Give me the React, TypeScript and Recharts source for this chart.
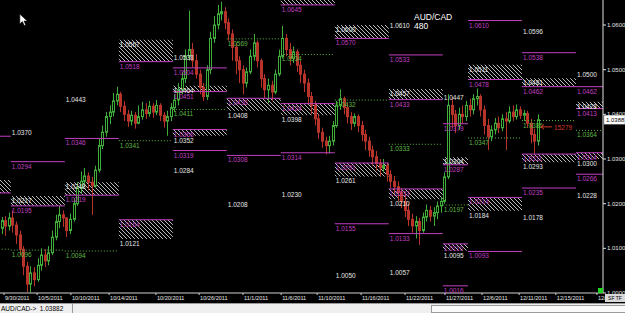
import React from "react";
import { ComposedChart, Bar, XAxis, YAxis, ReferenceArea, ReferenceLine, ReferenceDot } from "recharts";

const GREEN = "#3fae3a";
const RED = "#b8342a";
const MAGENTA = "#c23fc2";
const LEVEL_GREEN = "#5fb844";
const LABEL_WHITE = "#e6e6e6";
const FONT = "'Liberation Sans', Arial, sans-serif";

// AUD/CAD H8 candles (open = previous close)
const firstOpen = 1.0145;
const closes = [
  1.0162, 1.0150, 1.0168, 1.0152, 1.0130, 1.0098, 1.0060, 1.0020, 1.0045, 1.0030,
  1.0062, 1.0085, 1.0072, 1.0090, 1.0125, 1.0160, 1.0175, 1.0168, 1.0140, 1.0165,
  1.0200, 1.0235, 1.0250, 1.0262, 1.0248, 1.0240, 1.0275, 1.0330, 1.0360, 1.0395,
  1.0405, 1.0430, 1.0445, 1.0418, 1.0400, 1.0385, 1.0398, 1.0380, 1.0395, 1.0410,
  1.0402, 1.0418, 1.0405, 1.0420, 1.0398, 1.0385, 1.0395, 1.0415, 1.0432, 1.0455,
  1.0480, 1.0530, 1.0545, 1.0520, 1.0490, 1.0460, 1.0440, 1.0500, 1.0570, 1.0600,
  1.0625, 1.0630, 1.0605, 1.0580, 1.0550, 1.0520, 1.0500, 1.0470, 1.0495, 1.0530,
  1.0560, 1.0520, 1.0480, 1.0455, 1.0465, 1.0450, 1.0490, 1.0530, 1.0570, 1.0545,
  1.0525, 1.0540, 1.0510, 1.0490, 1.0470, 1.0440, 1.0420, 1.0390, 1.0360, 1.0340,
  1.0330, 1.0340, 1.0375, 1.0420, 1.0435, 1.0415, 1.0395, 1.0380, 1.0395, 1.0375,
  1.0355, 1.0340, 1.0320, 1.0305, 1.0290, 1.0280, 1.0285, 1.0265, 1.0250, 1.0238,
  1.0225, 1.0205, 1.0185, 1.0165, 1.0150, 1.0160, 1.0140, 1.0170, 1.0185, 1.0172,
  1.0180, 1.0195, 1.0205, 1.0260, 1.0420, 1.0400, 1.0375, 1.0400, 1.0395, 1.0420,
  1.0410, 1.0435, 1.0440, 1.0410, 1.0375, 1.0350, 1.0365, 1.0380, 1.0370, 1.0390,
  1.0385, 1.0405, 1.0395, 1.0410, 1.0398, 1.0402, 1.0380, 1.0355, 1.0340, 1.0388,
];
const highs = [
  1.0170, 1.0172, 1.0180, 1.0185, 1.0160, 1.0140, 1.0105, 1.0070, 1.0060, 1.0058,
  1.0078, 1.0100, 1.0098, 1.0105, 1.0140, 1.0175, 1.0195, 1.0185, 1.0170, 1.0178,
  1.0212, 1.0248, 1.0272, 1.0280, 1.0270, 1.0260, 1.0285, 1.0345, 1.0375, 1.0405,
  1.0420, 1.0448, 1.0462, 1.0450, 1.0430, 1.0410, 1.0408, 1.0405, 1.0420, 1.0428,
  1.0425, 1.0430, 1.0425, 1.0432, 1.0425, 1.0405, 1.0408, 1.0425, 1.0445, 1.0470,
  1.0495, 1.0545, 1.0632, 1.0560, 1.0535, 1.0500, 1.0470, 1.0510, 1.0585, 1.0620,
  1.0645, 1.0652, 1.0640, 1.0615, 1.0590, 1.0560, 1.0530, 1.0510, 1.0505, 1.0545,
  1.0580, 1.0565, 1.0525, 1.0490, 1.0480, 1.0475, 1.0500, 1.0545, 1.0598, 1.0580,
  1.0560, 1.0552, 1.0545, 1.0520, 1.0500, 1.0480, 1.0450, 1.0430, 1.0400, 1.0370,
  1.0350, 1.0352, 1.0385, 1.0430, 1.0456, 1.0440, 1.0425, 1.0405, 1.0402, 1.0400,
  1.0385, 1.0365, 1.0350, 1.0330, 1.0318, 1.0300, 1.0300, 1.0290, 1.0275, 1.0262,
  1.0250, 1.0235, 1.0225, 1.0200, 1.0178, 1.0172, 1.0168, 1.0180, 1.0198, 1.0195,
  1.0192, 1.0205, 1.0215, 1.0270, 1.0445, 1.0438, 1.0410, 1.0415, 1.0420, 1.0430,
  1.0435, 1.0445, 1.0458, 1.0445, 1.0420, 1.0390, 1.0375, 1.0392, 1.0395, 1.0400,
  1.0405, 1.0418, 1.0420, 1.0422, 1.0418, 1.0410, 1.0408, 1.0390, 1.0368, 1.0400,
];
const lows = [
  1.0132, 1.0128, 1.0140, 1.0135, 1.0110, 1.0085, 1.0040, 1.0002, 1.0001, 1.0015,
  1.0025, 1.0050, 1.0058, 1.0062, 1.0085, 1.0118, 1.0145, 1.0148, 1.0125, 1.0132,
  1.0160, 1.0195, 1.0222, 1.0238, 1.0230, 1.0175, 1.0235, 1.0270, 1.0322, 1.0350,
  1.0378, 1.0395, 1.0420, 1.0405, 1.0385, 1.0372, 1.0375, 1.0368, 1.0378, 1.0388,
  1.0390, 1.0395, 1.0392, 1.0398, 1.0385, 1.0370, 1.0352, 1.0385, 1.0405, 1.0420,
  1.0445, 1.0470, 1.0520, 1.0505, 1.0480, 1.0445, 1.0430, 1.0432, 1.0490, 1.0560,
  1.0590, 1.0610, 1.0590, 1.0565, 1.0520, 1.0490, 1.0470, 1.0445, 1.0460, 1.0490,
  1.0520, 1.0505, 1.0460, 1.0435, 1.0425, 1.0430, 1.0445, 1.0485, 1.0525, 1.0530,
  1.0510, 1.0515, 1.0495, 1.0470, 1.0450, 1.0425, 1.0400, 1.0375, 1.0345, 1.0325,
  1.0310, 1.0312, 1.0330, 1.0370, 1.0410, 1.0400, 1.0380, 1.0365, 1.0372, 1.0360,
  1.0340, 1.0320, 1.0305, 1.0285, 1.0275, 1.0262, 1.0270, 1.0250, 1.0235, 1.0222,
  1.0205, 1.0190, 1.0170, 1.0150, 1.0135, 1.0122, 1.0108, 1.0135, 1.0160, 1.0160,
  1.0150, 1.0165, 1.0180, 1.0200, 1.0255, 1.0370, 1.0358, 1.0365, 1.0380, 1.0385,
  1.0395, 1.0400, 1.0420, 1.0395, 1.0355, 1.0320, 1.0340, 1.0355, 1.0358, 1.0362,
  1.0320, 1.0380, 1.0385, 1.0388, 1.0390, 1.0385, 1.0370, 1.0335, 1.0312, 1.0330,
];

// weekly pivot segments, in bar units
const weekStarts = [-12, 3, 18, 33, 48, 63, 78, 93, 108, 123, 130, 145, 160];
const weekEnds = [3, 18, 33, 48, 63, 78, 93, 108, 123, 130, 145, 160, 175];

// [week, price]
const magentaLevels = [
  [0, 1.0351], [0, 1.0224],
  [1, 1.0294], [1, 1.0195],
  [2, 1.0346], [2, 1.0219],
  [3, 1.0518], [3, 1.0164],
  [4, 1.0504], [4, 1.0451], [4, 1.0366], [4, 1.0319],
  [5, 1.0436], [5, 1.0308],
  [6, 1.0645], [6, 1.0424], [6, 1.0314],
  [7, 1.0570], [7, 1.0291], [7, 1.0155],
  [8, 1.0533], [8, 1.0433], [8, 1.0233], [8, 1.0133],
  [9, 1.0379], [9, 1.0287], [9, 1.0110], [9, 1.0016],
  [10, 1.0610], [10, 1.0478], [10, 1.0214], [10, 1.0093],
  [11, 1.0538], [11, 1.0462], [11, 1.0311], [11, 1.0235],
  [12, 1.0462], [12, 1.0413], [12, 1.0314], [12, 1.0266],
];
const greenLevels = [
  [0, 1.0098], [1, 1.0096], [2, 1.0094], [3, 1.0341], [4, 1.0411], [5, 1.0569], [6, 1.0534],
  [7, 1.0432], [8, 1.0333], [9, 1.0197], [10, 1.0347], [11, 1.0386], [12, 1.0364],
];
const whiteLevels = [
  [1, 1.0370], [1, 1.0217],
  [2, 1.0443], [2, 1.0248],
  [3, 1.0567], [3, 1.0121],
  [4, 1.0538], [4, 1.0464], [4, 1.0352], [4, 1.0284],
  [5, 1.0408], [5, 1.0208],
  [6, 1.0398], [6, 1.0230],
  [7, 1.0600], [7, 1.0261], [7, 1.0050],
  [8, 1.0610], [8, 1.0457], [8, 1.0210], [8, 1.0057],
  [9, 1.0447], [9, 1.0304], [9, 1.0095],
  [10, 1.0511], [10, 1.0184],
  [11, 1.0596], [11, 1.0481], [11, 1.0293], [11, 1.0178],
  [12, 1.0500], [12, 1.0428], [12, 1.0300], [12, 1.0228],
];
// [week, top, bottom]
const hatchZones = [
  [0, 1.0253, 1.0224],
  [1, 1.0217, 1.0195],
  [2, 1.0248, 1.0219],
  [3, 1.0567, 1.0518], [3, 1.0164, 1.0121],
  [4, 1.0464, 1.0451], [4, 1.0366, 1.0352],
  [5, 1.0436, 1.0408],
  [6, 1.0670, 1.0645], [6, 1.0424, 1.0398],
  [7, 1.0600, 1.0570], [7, 1.0291, 1.0261],
  [8, 1.0457, 1.0433], [8, 1.0233, 1.0210],
  [9, 1.0304, 1.0287], [9, 1.0110, 1.0095],
  [10, 1.0511, 1.0478], [10, 1.0214, 1.0184],
  [11, 1.0481, 1.0462], [11, 1.0311, 1.0293],
  [12, 1.0428, 1.0413], [12, 1.0314, 1.0300],
];

const priceTicks = [1.0, 1.01, 1.02, 1.03, 1.04, 1.05, 1.06];
const dateTicks = [1.1, 10.3, 19.7, 30.3, 43.3, 55.3, 67.5, 78.1, 88.1, 100.3, 112.5, 123.6, 133.9, 144.2, 154.4, 165.8];
const dateLabels = [
  "9/30/2011", "10/5/2011", "10/10/2011", "10/14/2011", "10/20/2011", "10/26/2011", "11/1/2011", "11/6/2011",
  "11/10/2011", "11/16/2011", "11/22/2011", "11/27/2011", "12/6/2011", "12/11/2011", "12/15/2011", "12/19/2011",
];

const lastPrice = 1.0388;
const timerText = "15279";

const candles = closes.map((c, i) => ({
  t: i + 0.5,
  open: i ? closes[i - 1] : firstOpen,
  close: c,
  high: highs[i],
  low: lows[i],
  range: [lows[i], highs[i]],
}));

const Candle = (props: any) => {
  const { x, y, width, height, payload } = props;
  const { open, close, high, low } = payload;
  const top = Math.min(y, y + height);
  const h = Math.abs(height);
  const k = h / (high - low || 1);
  const yOf = (v: number) => top + (high - v) * k;
  const up = close >= open;
  const color = up ? GREEN : RED;
  const cx = Math.round(x + width / 2) + 0.5;
  const bTop = yOf(Math.max(open, close));
  const bBot = yOf(Math.min(open, close));
  return (
    <g>
      <line x1={cx} x2={cx} y1={top} y2={top + h} stroke={color} strokeWidth={1} />
      <rect x={cx - 1} y={bTop} width={2} height={Math.max(bBot - bTop, 0.8)} fill={up ? "#000" : color} stroke={color} strokeWidth={1} />
    </g>
  );
};

const levelText = (text: string, color: string) => (p: any) => (
  <text x={p.cx + 1} y={p.cy + 7} fill={color} fontSize={6.5} fontFamily={FONT}>{text}</text>
);

const PriceTick = (props: any) => (
  <text x={props.x} y={props.y + 2} fill={LABEL_WHITE} fontSize={6} fontFamily={FONT}>
    {Number(props.payload.value).toFixed(4)}
  </text>
);

const DateTick = (props: any) => (
  <text x={props.x + 1} y={props.y + 5} fill={LABEL_WHITE} fontSize={5.6} fontFamily={FONT}>
    {dateLabels[props.index]}
  </text>
);

export default function App() {
  return (
    <div style={{ position: "fixed", left: 0, top: 0, width: 625, height: 313, background: "#000", overflow: "hidden" }}>
      <ComposedChart width={625} height={303} data={candles} margin={{ top: 0, right: 0, bottom: 0, left: 0 }}>
        <defs>
          <pattern id="hatch" width="4" height="4" patternUnits="userSpaceOnUse">
            <path d="M0,0 L4,4 M-1,3 L1,5 M3,-1 L5,1" stroke="#d0d0d0" strokeWidth="0.9" />
          </pattern>
        </defs>
        <XAxis
          type="number"
          dataKey="t"
          domain={[0, 167.5]}
          allowDataOverflow
          ticks={dateTicks}
          interval={0}
          height={10}
          tick={<DateTick />}
          tickSize={2}
          tickMargin={0}
          axisLine={{ stroke: "#cfcfcf" }}
          tickLine={{ stroke: "#cfcfcf" }}
        />
        <YAxis
          orientation="right"
          width={22}
          domain={[1.0, 1.0656]}
          allowDataOverflow
          ticks={priceTicks}
          interval={0}
          tick={<PriceTick />}
          tickSize={3}
          tickMargin={1}
          axisLine={{ stroke: "#e0e0e0" }}
          tickLine={{ stroke: "#e0e0e0" }}
        />
        {hatchZones.map(([w, top, bottom], i) => (
          <ReferenceArea
            key={"h" + i}
            x1={weekStarts[w]}
            x2={weekEnds[w]}
            y1={bottom}
            y2={top}
            fill="url(#hatch)"
            fillOpacity={1}
            stroke="none"
            ifOverflow="hidden"
          />
        ))}
        {magentaLevels.map(([w, p], i) => (
          <ReferenceLine
            key={"m" + i}
            segment={[{ x: weekStarts[w], y: p }, { x: weekEnds[w], y: p }]}
            stroke={MAGENTA}
            strokeWidth={1}
            ifOverflow="hidden"
          />
        ))}
        {greenLevels.map(([w, p], i) => (
          <ReferenceLine
            key={"g" + i}
            segment={[{ x: weekStarts[w], y: p }, { x: weekEnds[w], y: p }]}
            stroke={LEVEL_GREEN}
            strokeDasharray="1 2"
            strokeWidth={1}
            ifOverflow="hidden"
          />
        ))}
        {magentaLevels.map(([w, p], i) => (
          <ReferenceDot key={"mt" + i} x={weekStarts[w]} y={p} r={0} shape={levelText(p.toFixed(4), MAGENTA)} />
        ))}
        {greenLevels.map(([w, p], i) => (
          <ReferenceDot key={"gt" + i} x={weekStarts[w]} y={p} r={0} shape={levelText(p.toFixed(4), LEVEL_GREEN)} />
        ))}
        {whiteLevels.map(([w, p], i) => (
          <ReferenceDot key={"wt" + i} x={weekStarts[w]} y={p} r={0} shape={levelText(p.toFixed(4), LABEL_WHITE)} />
        ))}
        <Bar dataKey="range" barSize={3} shape={<Candle />} isAnimationActive={false} />
        <ReferenceDot
          x={115}
          y={1.0612}
          r={0}
          ifOverflow="visible"
          shape={(p: any) => (
            <g>
              <text x={p.cx} y={p.cy} fill="#fff" fontSize={8.5} fontFamily={FONT}>AUD/CAD</text>
              <text x={p.cx} y={p.cy + 9} fill="#fff" fontSize={8.5} fontFamily={FONT}>480</text>
            </g>
          )}
        />
        <ReferenceDot
          x={150.3}
          y={1.0372}
          r={0}
          ifOverflow="visible"
          shape={(p: any) => (
            <g>
              <line x1={p.cx} x2={p.cx + 11} y1={p.cy} y2={p.cy} stroke="#d23a2a" strokeWidth={1} />
              <path d={`M${p.cx},${p.cy} l3,-2.5 M${p.cx},${p.cy} l3,2.5`} stroke="#d23a2a" strokeWidth={1} />
              <text x={p.cx + 13} y={p.cy + 3} fill="#d23a2a" fontSize={6.5} fontFamily={FONT}>{timerText}</text>
            </g>
          )}
        />
        <ReferenceDot
          x={5.5}
          y={1.0611}
          r={0}
          ifOverflow="visible"
          shape={(p: any) => (
            <polygon
              points={`${p.cx},${p.cy - 6} ${p.cx},${p.cy + 4} ${p.cx + 2.5},${p.cy + 1.5} ${p.cx + 4.5},${p.cy + 5.5} ${p.cx + 6},${p.cy + 4.8} ${p.cx + 4.2},${p.cy + 1} ${p.cx + 7.5},${p.cy + 1}`}
              fill="#fff"
              stroke="#000"
              strokeWidth={0.6}
            />
          )}
        />
        <ReferenceDot
          x={167.5}
          y={lastPrice}
          r={0}
          ifOverflow="visible"
          shape={(p: any) => (
            <g>
              <rect x={p.cx + 1} y={p.cy - 4.5} width={21} height={9} fill="#fff" stroke="#888" strokeWidth={0.5} />
              <text x={p.cx + 3} y={p.cy + 2.2} fill="#000" fontSize={6} fontFamily={FONT}>{lastPrice.toFixed(4)}</text>
            </g>
          )}
        />
      </ComposedChart>
      <div style={{ position: "absolute", left: 598, top: 288, width: 5, height: 5, background: "#1fd31f" }} />
      <div
        style={{
          position: "absolute", left: 605, top: 294, width: 20, height: 8, background: "#d8d8d8",
          fontSize: 5, fontFamily: FONT, color: "#000", lineHeight: "8px", textAlign: "center",
        }}
      >
        SF TF
      </div>
      <div
        style={{
          position: "absolute", left: 0, top: 303, width: 625, height: 10, background: "#efefef",
          borderTop: "1px solid #9a9a9a", boxSizing: "border-box",
        }}
      >
        <div style={{ position: "absolute", left: 1, top: 1, fontSize: 6.5, fontFamily: FONT, color: "#000", lineHeight: "8px" }}>
          AUD/CAD-&gt;&nbsp;&nbsp;1.03882
        </div>
        <div style={{ position: "absolute", left: 72, top: 0, width: 1, height: 9, background: "#9a9a9a" }} />
        <div style={{ position: "absolute", left: 431, top: 1, width: 194, height: 8, border: "1px solid #9a9a9a", borderRight: "none", background: "#fafafa", boxSizing: "border-box" }} />
      </div>
    </div>
  );
}
